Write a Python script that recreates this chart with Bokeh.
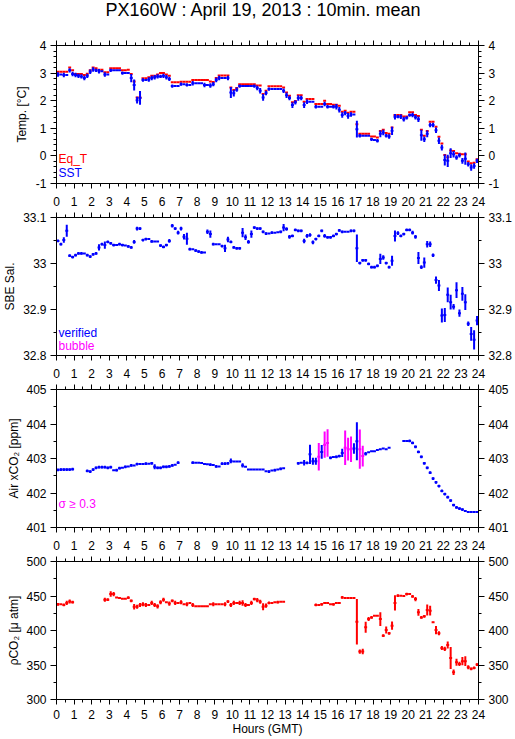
import math
from bokeh.plotting import figure
from bokeh.layouts import column
from bokeh.models import (ColumnDataSource, Range1d, LinearAxis, FixedTicker, Label, Div,
                          CustomJSTickFormatter, CustomLabelingPolicy)
from bokeh.embed import file_html
from bokeh.resources import INLINE

# ---------------------------------------------------------------- data
TITLE = "PX160W : April 19, 2013 : 10min. mean"
STEP_MIN = 10                      # one value every 10 minutes, 144 per day
HOUR_TICKS = list(range(0, 25))
HOUR_MINOR = [h + 0.5 for h in range(24)]

# Sea surface temperature (SST) and equilibrator temperature (Eq_T), deg C
SST = [
    2.95, 2.95, 2.93, 2.93, 3.10, 2.97,
    2.93, 2.90, 2.88, 2.82, 2.90, 3.05,
    3.13, 3.10, 3.07, 3.07, 2.95, 2.95,
    3.10, 3.10, 3.10, 3.10, 3.00, 3.00,
    3.00, 2.82, 2.57, 2.02, 2.10, 2.75,
    2.75, 2.77, 2.82, 2.85, 2.88, 2.88,
    2.90, 2.85, 2.79, 2.53, 2.53, 2.53,
    2.60, 2.60, 2.57, 2.57, 2.63, 2.63,
    2.63, 2.63, 2.57, 2.57, 2.55, 2.60,
    2.75, 2.82, 2.82, 2.82, 2.82, 2.30,
    2.27, 2.40, 2.53, 2.53, 2.53, 2.53,
    2.53, 2.53, 2.46, 2.36, 2.12, 2.28,
    2.42, 2.42, 2.42, 2.42, 2.42, 2.36,
    2.20, 2.10, 1.84, 1.94, 2.10, 2.10,
    1.84, 1.96, 1.96, 1.96, 1.78, 1.78,
    1.78, 1.88, 1.78, 1.78, 1.78, 1.78,
    1.67, 1.48, 1.55, 1.45, 1.50, 1.50,
    0.97, 0.73, 0.73, 0.73, 0.73, 0.60,
    0.58, 0.55, 0.80, 0.85, 0.73, 0.70,
    0.91, 1.42, 1.42, 1.42, 1.33, 1.38,
    1.48, 1.48, 1.40, 1.33, 0.75, 0.60,
    0.80, 1.12, 1.12, 0.93, 0.55, 0.30,
    -0.15, -0.18, 0.10, 0.06, -0.06, 0.02,
    -0.18, -0.10, -0.30, -0.42, -0.37, -0.18,
]
SST_ERR = [
    .08, 0, .08, 0, .08, .08,
    .08, .08, .08, .08, .08, .08,
    .08, .06, .08, 0, .08, 0,
    .06, 0, 0, 0, .06, 0,
    0, .15, .2, .12, .25, .06,
    0, .08, .08, .08, .08, .06,
    .08, .08, .08, .06, 0, 0,
    .06, 0, .06, 0, .08, 0,
    0, 0, .08, 0, .08, .08,
    .08, .08, 0, 0, .08, .2,
    .12, .08, .06, 0, 0, 0,
    0, .06, .08, .1, .12, .08,
    .06, 0, 0, 0, 0, .08,
    .1, .08, .1, .08, .1, .08,
    .1, .08, 0, 0, .06, 0,
    0, .08, .06, 0, .06, .1,
    .1, .1, .08, .1, .08, 0,
    .3, .06, 0, 0, 0, .06,
    0, .06, .12, .1, .06, .08,
    .15, .1, .06, .08, .08, .06,
    .06, .08, .08, .1, .2, .1,
    .12, .08, .08, .1, .12, .1,
    .2, .22, .18, .12, .08, .08,
    .1, .22, .08, .12, .1, .08,
]
EQ_T = [
    3.05, 3.05, 3.05, 3.05, 3.20, 3.10,
    2.97, 2.97, 2.97, 2.93, 2.98, 3.10,
    3.20, 3.18, 3.12, 3.12, 3.03, 3.03,
    3.18, 3.18, 3.18, 3.18, 3.10, 3.10,
    3.12, 2.97, 2.70, 2.12, 2.12, 2.81,
    2.81, 2.85, 2.90, 2.90, 2.95, 3.00,
    3.00, 2.95, 2.90, 2.67, 2.67, 2.67,
    2.69, 2.69, 2.69, 2.69, 2.75, 2.75,
    2.75, 2.75, 2.75, 2.75, 2.70, 2.68,
    2.82, 2.91, 2.91, 2.91, 2.91, 2.48,
    2.39, 2.46, 2.60, 2.60, 2.60, 2.60,
    2.60, 2.60, 2.55, 2.55, 2.24, 2.36,
    2.52, 2.52, 2.52, 2.52, 2.52, 2.48,
    2.30, 2.18, 1.94, 1.99, 2.20, 2.20,
    1.96, 2.06, 2.06, 2.06, 1.88, 1.88,
    1.88, 2.00, 1.88, 1.88, 1.85, 1.85,
    1.82, 1.60, 1.64, 1.56, 1.60, 1.60,
    1.15, 0.80, 0.80, 0.80, 0.80, 0.70,
    0.70, 0.67, 0.90, 0.95, 0.83, 0.80,
    1.03, 1.48, 1.48, 1.48, 1.43, 1.43,
    1.58, 1.58, 1.48, 1.45, 0.95, 0.73,
    0.90, 1.24, 1.24, 1.06, 0.69, 0.45,
    0.03, -0.05, 0.20, 0.18, 0.10, 0.08,
    0.06, 0.06, -0.20, -0.27, -0.25, -0.12,
]

# SBE salinity (verified)
SAL = [
    33.049, 33.042, 33.051, 33.071, 33.017, 33.014,
    33.018, 33.022, 33.022, 33.022, 33.018, 33.015,
    33.020, 33.022, 33.035, 33.042, 33.040, 33.047,
    33.044, 33.040, 33.040, 33.042, 33.040, 33.039,
    33.037, 33.035, 33.047, 33.076, 33.076, 33.051,
    33.053, 33.053, 33.048, 33.048, 33.048, 33.039,
    33.036, 33.040, 33.049, 33.082, 33.076, 33.067,
    33.076, 33.058, 33.054, 33.031, 33.031, 33.028,
    33.026, 33.024, 33.024, 33.069, 33.064, 33.042,
    33.042, 33.042, 33.038, 33.033, 33.052, 33.047,
    33.035, 33.033, 33.033, 33.067, 33.057, 33.047,
    33.064, 33.078, 33.076, 33.076, 33.069, 33.065,
    33.065, 33.067, 33.067, 33.068, 33.069, 33.078,
    33.075, 33.058, 33.060, 33.073, 33.071, 33.071,
    33.049, 33.060, 33.062, 33.046, 33.053, 33.060,
    33.071, 33.060, 33.057, 33.057, 33.060, 33.064,
    33.072, 33.069, 33.069, 33.069, 33.071, 33.071,
    33.033, 33.001, 33.007, 33.007, 32.999, 32.992,
    32.992, 32.995, 33.010, 33.013, 33.001, 32.992,
    33.006, 33.060, 33.066, 33.060, 33.064, 33.073,
    33.073, 33.067, 33.058, 33.012, 32.992, 33.002,
    33.042, 33.042, 33.018, 32.964, 32.952, 32.887,
    32.888, 32.932, 32.916, 32.906, 32.942, 32.892,
    32.934, 32.916, 32.869, 32.847, 32.834, 32.876,
]
SAL_ERR = [
    .003, .003, .006, .013, .003, .003,
    .003, .003, .003, 0, .003, .003,
    .003, .003, .007, .003, .008, .003,
    .003, .003, 0, .003, .003, 0,
    .003, .003, .004, .004, .003, .003,
    .003, 0, .003, 0, 0, .003,
    .003, .003, .004, .004, .003, .004,
    .004, .006, .013, .003, 0, .003,
    .003, .003, 0, .005, .008, .003,
    0, 0, .003, .008, .006, .003,
    .003, .003, .003, .01, .006, .004,
    .008, .003, .003, .003, .003, .003,
    0, .003, 0, 0, .003, .008,
    .004, .004, .003, .003, .003, .003,
    .005, .004, .004, .004, .003, .003,
    .003, .004, .003, .003, .003, .003,
    .003, .003, 0, 0, .003, .003,
    .03, .003, .003, .003, .003, .003,
    .003, .003, .011, .005, .003, .003,
    .011, .012, .004, .003, .003, .003,
    .003, .004, .004, .013, .004, .011,
    .007, .006, .004, .008, .012, .015,
    .015, .016, .016, .006, .017, .008,
    .015, .017, .005, .015, .021, .01,
]

# Air xCO2 (ppm); None = no data
XCO2 = [
    402.67, 402.68, 402.68, 402.68, 402.68, 402.69,
    None, None, None, None, 402.64, 402.62,
    402.68, 402.73, 402.75, 402.75, 402.75, 402.73,
    402.75, 402.66, 402.66, 402.72, 402.73, 402.76,
    402.77, 402.80, 402.80, 402.84, 402.84, 402.84,
    402.85, 402.85, 402.86, 402.76, 402.73, 402.73,
    402.76, 402.76, 402.77, 402.80, 402.82, 402.88,
    None, None, None, None, 402.88, 402.88,
    402.88, 402.87, 402.84, 402.83, 402.82, 402.81,
    402.77, 402.77, 402.85, 402.85, 402.86, 402.93,
    402.91, 402.91, 402.91, 402.80, 402.76, 402.68,
    402.68, 402.68, 402.68, 402.68, 402.68, 402.63,
    402.62, 402.65, 402.66, 402.68, 402.70, 402.72,
    None, None, None, None, 402.86, 402.88,
    402.88, 402.87, 403.12, 402.92, 402.92, 403.05,
    403.19, 403.40, 403.45, 403.02, 403.04, 403.05,
    403.07, 403.16, 403.31, 403.27, 403.27, 403.29,
    403.50, 403.27, 403.07, 403.14, 403.18, 403.21,
    403.21, 403.25, 403.27, 403.29, 403.27, 403.31,
    None, None, None, None, 403.51, 403.51,
    403.51, 403.45, 403.34, 403.19, 403.05, 402.86,
    402.73, 402.59, 402.42, 402.31, 402.20, 402.06,
    401.97, 401.88, 401.78, 401.65, 401.58, 401.55,
    401.52, 401.48, 401.45, 401.45, 401.45, 401.45,
]
XCO2_ERR = [
    .04, .04, .04, .04, .04, .04,
    0, 0, 0, 0, .04, .04,
    .04, .04, .04, .04, .04, .04,
    .04, 0, .04, .04, 0, .04,
    0, .04, 0, .04, 0, 0,
    .04, 0, .04, .07, .04, .04,
    .04, .04, .04, .04, 0, .04,
    0, 0, 0, 0, .04, 0,
    0, 0, 0, 0, .04, 0,
    .04, 0, .04, .04, .04, .07,
    0, 0, 0, .06, 0, 0,
    0, 0, 0, 0, 0, 0,
    .04, 0, .04, 0, .04, 0,
    0, 0, 0, 0, .04, 0,
    .08, .04, .28, .1, .1, .4,
    .2, .38, .4, .04, 0, .04,
    .04, .12, .5, .33, .37, .15,
    .55, .57, .3, .05, 0, 0,
    0, 0, 0, 0, 0, 0,
    0, 0, 0, 0, 0, 0,
    .04, .04, .04, .04, .04, .04,
    .04, .04, .04, .04, .04, .04,
    .04, .04, .04, .04, .04, .04,
    .04, 0, 0, 0, 0, 0,
]
XCO2_HIGH_SIGMA = [89, 91, 92, 98, 99, 100, 103, 104]   # sigma >= 0.3

# pCO2 (uatm)
PCO2 = [
    438, 438, 437, 440, 442, 441,
    None, None, None, None, None, None,
    None, None, None, None, 444.6, 444.6,
    452.8, 452.8, 448, 447, 446, 446,
    447.5, 443, 434.5, 434.5, 437, 438,
    437, 437, 440, 437, 435, 441,
    444.6, 441, 439, 443, 440, 440,
    441, 438, 438, 440, 437, 435,
    435, 435, 435, 435, 438, 438,
    438, 438, 438, 438, 442, 437,
    440, 440, 440, 440, 437, 437,
    440, 445.5, 444, 441.7, 434.5, 436,
    440, 440, 441, 441, 441.7, 441.7,
    None, None, None, None, None, None,
    None, None, None, None, 437, 437,
    438, 440, 440, 438, 438, 440,
    440, 448, 447, 447, 447, 447,
    412.8, 369.4, 369.4, 404.6, 416.6, 419,
    421.4, 421.4, 416.6, 392.5, 400.7, 396,
    407, 440, 450.4, 450.4, 450, 452.8,
    452.8, 449.4, 445.5, 426.3, 419, 420.5,
    429.6, 428.7, 411.8, 400.7, 396, 374.7,
    373.3, 379, 360.2, 339.5, 354, 351.6,
    355.6, 355.6, 346.7, 344.4, 345.8, 350.6,
]
PCO2_ERR = [
    2, 0, 2, 3, 3, 2,
    0, 0, 0, 0, 0, 0,
    0, 0, 0, 0, 3, 2,
    4, 3, 0, 0, 0, 0,
    2, 2, 4, 3, 3, 3,
    3, 0, 3, 3, 3, 3,
    3, 0, 3, 2, 3, 0,
    3, 0, 3, 0, 3, 0,
    0, 0, 0, 0, 0, 3,
    0, 0, 0, 3, 2, 3,
    3, 0, 3, 4, 3, 0,
    3, 2, 3, 3, 5, 3,
    2, 0, 0, 2, 0, 0,
    0, 0, 0, 0, 0, 0,
    0, 0, 0, 0, 2, 0,
    2, 0, 0, 0, 2, 0,
    0, 2, 0, 0, 0, 0,
    33, 3, 4, 8, 3, 2,
    0, 0, 10, 2, 5, 2,
    6, 11, 2, 0, 0, 2,
    0, 2, 3, 5, 2, 2,
    8, 7, 1, 6, 3, 3,
    3, 5, 16, 4, 5, 3,
    6, 7, 3, 2, 2, 2,
]

# ---------------------------------------------------------------- style
FONT = "Liberation Sans"
BLUE, RED, MAGENTA = "#0000ff", "#ff0000", "#ff00ff"
W = 515
BL, BR = 52, 37


def sources(vals, errs, keep=None):
    dt = STEP_MIN / 60.0
    h = dict(x0=[], x1=[], y=[])
    v = dict(x=[], y0=[], y1=[])
    for i, val in enumerate(vals):
        if val is None or (keep is not None and not keep(i)):
            continue
        h["x0"].append(i * dt)
        h["x1"].append((i + 1) * dt)
        h["y"].append(val)
        e = errs[i] if errs is not None else 0
        if e:
            v["x"].append((i + 0.5) * dt)
            v["y0"].append(val - e)
            v["y1"].append(val + e)
    return ColumnDataSource(h), ColumnDataSource(v)


def draw(p, vals, errs, color, keep=None):
    hs, vs = sources(vals, errs, keep)
    p.segment(x0="x0", y0="y", x1="x1", y1="y", source=hs,
              line_color=color, line_width=2)
    if len(vs.data["x"]):
        p.segment(x0="x", y0="y0", x1="x", y1="y1", source=vs,
                  line_color=color, line_width=2)


def style_axis(ax, tick_out, minor_out, standoff, show_labels=True):
    ax.axis_line_color = "black"
    ax.axis_line_width = 1
    ax.major_tick_line_color = "black"
    ax.minor_tick_line_color = "black"
    ax.major_tick_in = 0
    ax.minor_tick_in = 0
    ax.major_tick_out = tick_out
    ax.minor_tick_out = minor_out
    ax.major_label_text_font = FONT
    ax.major_label_text_color = "black"
    ax.major_label_text_font_size = "12px"
    ax.major_label_standoff = standoff
    ax.axis_label_text_font = FONT
    ax.axis_label_text_font_size = "12px"
    ax.axis_label_text_font_style = "normal"
    ax.axis_label_text_color = "black"
    ax.formatter = CustomJSTickFormatter(code="return String(Math.round(tick * 1000) / 1000);")
    if not show_labels:
        ax.major_label_text_font_size = "0px"
        ax.major_label_standoff = 0
        ax.major_label_policy = CustomLabelingPolicy(code="return []")


def panel(height, top, bottom, yr, yticks, yminor, ylabel, ylabel_standoff, xstandoff=8):
    p = figure(width=W, height=height, x_range=Range1d(0, 24), y_range=Range1d(*yr),
               output_backend="svg", toolbar_location=None,
               min_border_left=BL, min_border_right=BR,
               min_border_top=top, min_border_bottom=bottom,
               x_axis_location=None, y_axis_location=None,
               background_fill_color="white", border_fill_color="white",
               outline_line_color=None)
    p.grid.visible = False
    axes = {}
    for loc in ("below", "above"):
        ax = LinearAxis(ticker=FixedTicker(ticks=HOUR_TICKS, minor_ticks=HOUR_MINOR))
        style_axis(ax, 5, 3, xstandoff, show_labels=(loc == "below"))
        p.add_layout(ax, loc)
        axes[loc] = ax
    for loc in ("left", "right"):
        ax = LinearAxis(ticker=FixedTicker(ticks=yticks, minor_ticks=yminor))
        style_axis(ax, 6, 3, 4)
        p.add_layout(ax, loc)
        axes[loc] = ax
    axes["left"].axis_label = ylabel
    axes["left"].axis_label_standoff = ylabel_standoff
    return p, axes


def legend_text(p, text, y, color):
    p.add_layout(Label(x=2, y=y, x_units="screen", y_units="screen", text=text,
                       text_align="left", text_baseline="middle", text_font=FONT,
                       text_font_size="12px", text_color=color))


# ---------------------------------------------------------------- title
title_div = Div(text=TITLE, width=504, height=24, margin=(0, 0, 0, 11),
                styles={"font-family": FONT, "font-size": "18px", "line-height": "20px",
                        "text-align": "center", "color": "black", "white-space": "nowrap"})

# ---------------------------------------------------------------- panel 1: temperature
p1, ax1 = panel(187, 21, 28, (-1, 4), [-1, 0, 1, 2, 3, 4],
                [round(-1 + 0.2 * k, 1) for k in range(26)], "Temp. [°C]", 4)
draw(p1, EQ_T, None, RED)
draw(p1, SST, SST_ERR, BLUE)
legend_text(p1, "Eq_T", 25, RED)
legend_text(p1, "SST", 11, BLUE)

# ---------------------------------------------------------------- panel 2: salinity
p2, ax2 = panel(172, 6, 28, (32.8, 33.1), [32.8, 32.9, 33.0, 33.1],
                [32.85, 32.95, 33.05], "SBE Sal.", 3)
draw(p2, SAL, SAL_ERR, BLUE)
legend_text(p2, "verified", 23, BLUE)
legend_text(p2, "bubble", 10, MAGENTA)

# ---------------------------------------------------------------- panel 3: air xCO2
p3, ax3 = panel(172, 6, 28, (401, 405), [401, 402, 403, 404, 405],
                [401.5, 402.5, 403.5, 404.5], "Air xCO₂ [ppm]", 2)
draw(p3, XCO2, XCO2_ERR, BLUE, keep=lambda i: i not in XCO2_HIGH_SIGMA)
draw(p3, XCO2, XCO2_ERR, MAGENTA, keep=lambda i: i in XCO2_HIGH_SIGMA)
legend_text(p3, "σ ≥ 0.3", 24, MAGENTA)

# ---------------------------------------------------------------- panel 4: pCO2
p4, ax4 = panel(183, 6, 39, (300, 500), [300, 350, 400, 450, 500],
                [325, 375, 425, 475], "ρCO₂ [μ atm]", 2, xstandoff=5)
ax4["below"].axis_label = "Hours (GMT)"
ax4["below"].axis_label_standoff = 0
draw(p4, PCO2, PCO2_ERR, RED)

layout = column(title_div, p1, p2, p3, p4)
open("out.html", "w").write(file_html(layout, INLINE))
